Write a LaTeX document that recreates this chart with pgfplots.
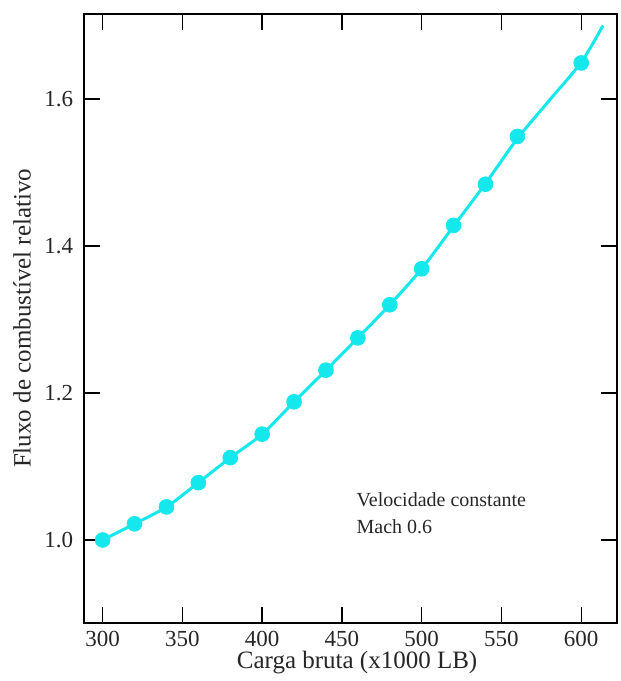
\documentclass[border=0pt]{standalone}
\usepackage{pgfplots}
\pgfplotsset{compat=1.18}
\usepackage{fontspec}
\setmainfont{Liberation Serif}
\definecolor{cy}{RGB}{20,232,236}
\begin{document}
\begin{tikzpicture}
\path (0,0) rectangle (310.5pt,340.5pt);
\begin{axis}[
  at={(42.15pt,29.15pt)}, anchor=south west,
  scale only axis, width=266.4pt, height=304.4pt,
  xmin=288.5, xmax=622.5, ymin=0.8875, ymax=1.7157,
  xtick={300,350,...,600}, ytick={1.0,1.2,1.4,1.6},
  yticklabel style={/pgf/number format/fixed, /pgf/number format/fixed zerofill, /pgf/number format/precision=1},
  tick align=inside, major tick length=8pt,
  tick style={black, line width=0.7pt},
  axis line style={black, line width=0.8pt},
  /pgf/number format/assume math mode=true,
  ticklabel style={font=\fontsize{11.5}{13}\selectfont, text=black!85},
  xticklabel style={yshift=-0.5pt},
  yticklabel style={xshift=-2pt},
  label style={font=\fontsize{12.5}{14}\selectfont, text=black!85},
  xlabel={Carga bruta (x1000 LB)},
  ylabel={Fluxo de combustível relativo},
  xlabel style={at={(axis description cs:0.512,-0.0646)}, anchor=center},
  ylabel style={at={(axis description cs:-0.117,0.5)}, anchor=center, rotate=0},
  clip=false,
]
\addplot[cy, line width=1.5pt, smooth] coordinates {
 (300,1.000) (320,1.022) (340,1.045) (360,1.078) (380,1.112) (400,1.144)
 (420,1.188) (440,1.231) (460,1.275) (480,1.320) (500,1.369) (520,1.427)
 (540,1.485) (560,1.546) (580,1.598) (600,1.650) (613.7,1.700)};
\addplot[only marks, mark=*, mark size=3.7pt, cy, mark options={draw=cy, fill=cy}] coordinates {
 (300,1.000) (320,1.022) (340,1.045) (360,1.078) (380,1.112) (400,1.144)
 (420,1.188) (440,1.231) (460,1.275) (480,1.320) (500,1.369) (520,1.428)
 (540,1.484) (560,1.549) (600,1.649)};
\node[anchor=base west, font=\fontsize{10}{12}\selectfont, text=black!85, inner sep=0pt]
  at (axis cs:459,1.045) {Velocidade constante};
\node[anchor=base west, font=\fontsize{10}{12}\selectfont, text=black!85, inner sep=0pt]
  at (axis cs:459,1.0095) {Mach 0.6};
\end{axis}
\end{tikzpicture}
\end{document}
